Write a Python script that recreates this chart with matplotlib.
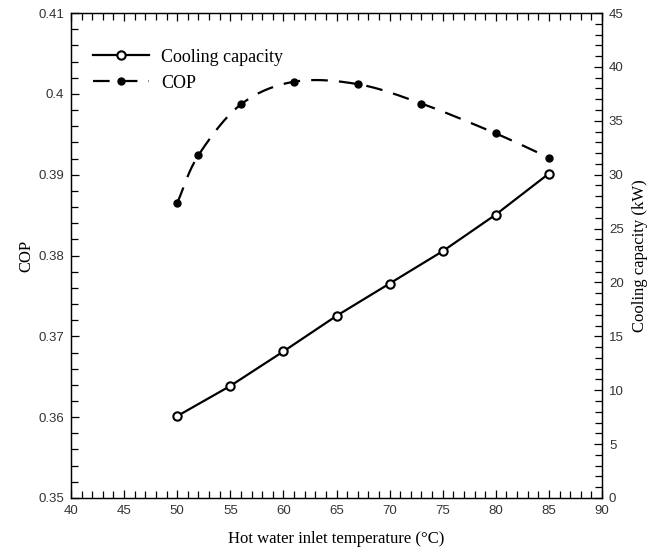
import numpy as np
import matplotlib
matplotlib.use('Agg')
import matplotlib.pyplot as plt
from matplotlib.ticker import MultipleLocator

# Datos
temp_cap = [50, 55, 60, 65, 70, 75, 80, 85]
capacidad = [7.6, 10.4, 13.6, 16.9, 19.9, 22.9, 26.3, 30.1]

temp_cop = [50, 52, 56, 61, 67, 73, 80, 85]
cop = [0.3865, 0.3924, 0.3987, 0.4015, 0.4012, 0.3988, 0.3951, 0.3921]


def catmull_rom(x, y, n=20):
    # curva suave que pasa por los puntos (como el spline de SigmaPlot)
    x = np.asarray(x, float)
    y = np.asarray(y, float)
    px = np.concatenate([[2 * x[0] - x[1]], x, [2 * x[-1] - x[-2]]])
    py = np.concatenate([[2 * y[0] - y[1]], y, [2 * y[-1] - y[-2]]])
    xs, ys = [], []
    t = np.linspace(0, 1, n, endpoint=False)
    for i in range(1, len(px) - 2):
        for p, out in ((px, xs), (py, ys)):
            p0, p1, p2, p3 = p[i - 1], p[i], p[i + 1], p[i + 2]
            out.extend(0.5 * (2 * p1 + (-p0 + p2) * t
                              + (2 * p0 - 5 * p1 + 4 * p2 - p3) * t ** 2
                              + (-p0 + 3 * p1 - 3 * p2 + p3) * t ** 3))
    xs.append(x[-1])
    ys.append(y[-1])
    return xs, ys


serif = 'Liberation Serif'
sans = 'Liberation Sans'

fig = plt.figure(figsize=(6.63, 5.49), dpi=100)
ax = fig.add_axes([0.1071, 0.0929, 0.8009, 0.8834])
ax2 = ax.twinx()

# COP (eje izquierdo)
sx, sy = catmull_rom(temp_cop, cop)
ax.plot(sx, sy, color='black', lw=1.6, dashes=(7.5, 5))
ax.plot(temp_cop, cop, 'o', color='black', ms=5)
cop_handle, = ax.plot([], [], color='black', lw=1.6, dashes=(7.5, 5),
                      marker='o', ms=5, label='COP')

# Capacidad de enfriamiento (eje derecho)
cap_handle, = ax2.plot(temp_cap, capacidad, color='black', lw=1.6,
                       marker='o', ms=6, mfc='white', mew=1.5,
                       label='Cooling capacity')

ax.set_xlim(40, 90)
ax.set_ylim(0.35, 0.41)
ax2.set_ylim(0, 45)

ax.xaxis.set_major_locator(MultipleLocator(5))
ax.xaxis.set_minor_locator(MultipleLocator(1))
ax.yaxis.set_major_locator(MultipleLocator(0.01))
ax.yaxis.set_minor_locator(MultipleLocator(0.002))
ax2.yaxis.set_major_locator(MultipleLocator(5))
ax2.yaxis.set_minor_locator(MultipleLocator(1))

ax.tick_params(which='both', direction='in', top=True, width=0.9)
ax.tick_params(axis='y', which='both', right=False)
ax.tick_params(which='major', length=6)
ax.tick_params(which='minor', length=5)
ax2.tick_params(which='both', direction='in', width=0.9)
ax2.tick_params(which='major', length=6)
ax2.tick_params(which='minor', length=5)

ax.yaxis.set_major_formatter(plt.FuncFormatter(lambda v, p: f'{v:.2f}'.rstrip('0') if v else '0'))
for a in (ax, ax2):
    for lab in a.get_xticklabels() + a.get_yticklabels():
        lab.set_fontfamily(sans)
        lab.set_fontsize(9.5)
        lab.set_color('#333333')
    for s in a.spines.values():
        s.set_linewidth(0.9)

ax.tick_params(axis='both', pad=5)
ax2.tick_params(axis='y', pad=5)

ax.set_xlabel('Hot water inlet temperature (°C)', fontfamily=serif, fontsize=12, labelpad=10)
ax.set_ylabel('COP', fontfamily=serif, fontsize=12, labelpad=3)
ax2.set_ylabel('Cooling capacity (kW)', fontfamily=serif, fontsize=12, labelpad=6)

leg = ax2.legend(handles=[cap_handle, cop_handle], loc='upper left',
                 bbox_to_anchor=(0.01, 0.96), frameon=False,
                 prop={'family': serif, 'size': 13}, handlelength=3.1,
                 handletextpad=0.7, labelspacing=0.5)

fig.savefig('out.png', dpi=100)
